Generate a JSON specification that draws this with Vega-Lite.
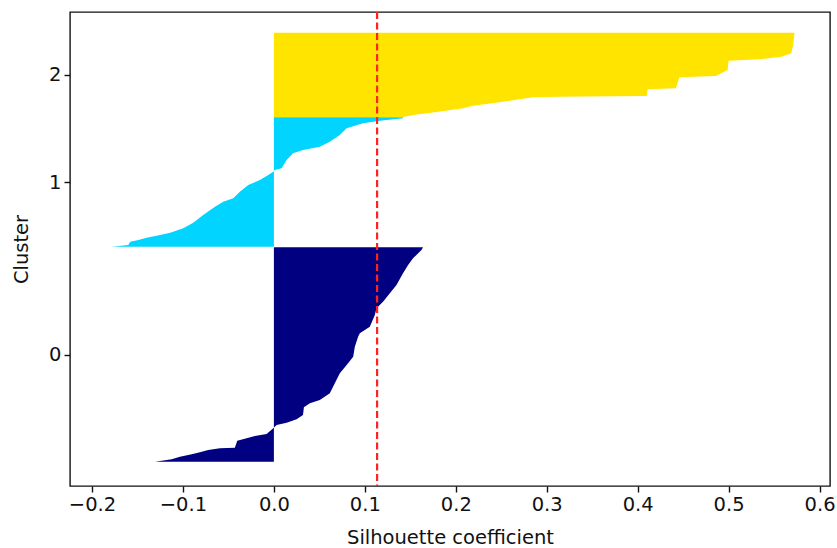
{
  "$schema": "https://vega.github.io/schema/vega-lite/v6.json",
  "width": 760,
  "height": 474,
  "autosize": {"type": "none"},
  "padding": {"left": 70, "top": 12, "right": 7, "bottom": 62},
  "background": "white",
  "config": {
    "font": "DejaVu Sans",
    "view": {"stroke": "#111111", "strokeWidth": 1.4},
    "axis": {
      "domain": false,
      "grid": false,
      "ticks": true,
      "tickColor": "#111111",
      "tickSize": 6,
      "tickWidth": 1.4,
      "labelColor": "#111111",
      "labelFont": "DejaVu Sans",
      "labelFontSize": 19.5,
      "labelPadding": 3,
      "titleColor": "#111111",
      "titleFont": "DejaVu Sans",
      "titleFontSize": 19.5,
      "titleFontWeight": "normal"
    }
  },
  "datasets": {
    "silhouette": [
      {"cluster": "0", "sample": 12.15, "coef": -0.1308},
      {"cluster": "0", "sample": 13.35, "coef": -0.1124},
      {"cluster": "0", "sample": 14.65, "coef": -0.1033},
      {"cluster": "0", "sample": 15.85, "coef": -0.0904},
      {"cluster": "0", "sample": 16.85, "coef": -0.0813},
      {"cluster": "0", "sample": 18.0, "coef": -0.0722},
      {"cluster": "0", "sample": 18.85, "coef": -0.0593},
      {"cluster": "0", "sample": 19.15, "coef": -0.0429},
      {"cluster": "0", "sample": 22.65, "coef": -0.0403},
      {"cluster": "0", "sample": 23.85, "coef": -0.03},
      {"cluster": "0", "sample": 25.0, "coef": -0.0209},
      {"cluster": "0", "sample": 26.0, "coef": -0.008},
      {"cluster": "0", "sample": 28.85, "coef": -0.0007},
      {"cluster": "0", "sample": 30.5, "coef": 0.003},
      {"cluster": "0", "sample": 31.65, "coef": 0.014},
      {"cluster": "0", "sample": 33.35, "coef": 0.025},
      {"cluster": "0", "sample": 35.5, "coef": 0.032},
      {"cluster": "0", "sample": 39.35, "coef": 0.033},
      {"cluster": "0", "sample": 41.35, "coef": 0.0396},
      {"cluster": "0", "sample": 43.0, "coef": 0.0505},
      {"cluster": "0", "sample": 46.35, "coef": 0.0615},
      {"cluster": "0", "sample": 51.35, "coef": 0.067},
      {"cluster": "0", "sample": 56.35, "coef": 0.0725},
      {"cluster": "0", "sample": 60.5, "coef": 0.08},
      {"cluster": "0", "sample": 64.65, "coef": 0.0872},
      {"cluster": "0", "sample": 69.65, "coef": 0.089},
      {"cluster": "0", "sample": 74.65, "coef": 0.0926},
      {"cluster": "0", "sample": 76.35, "coef": 0.0945},
      {"cluster": "0", "sample": 79.65, "coef": 0.1055},
      {"cluster": "0", "sample": 85.5, "coef": 0.111},
      {"cluster": "0", "sample": 88.85, "coef": 0.1128},
      {"cluster": "0", "sample": 92.15, "coef": 0.12},
      {"cluster": "0", "sample": 96.35, "coef": 0.1275},
      {"cluster": "0", "sample": 100.5, "coef": 0.1348},
      {"cluster": "0", "sample": 106.35, "coef": 0.142},
      {"cluster": "0", "sample": 110.5, "coef": 0.1476},
      {"cluster": "0", "sample": 113.85, "coef": 0.153},
      {"cluster": "0", "sample": 118.0, "coef": 0.1623},
      {"cluster": "0", "sample": 119.35, "coef": 0.164},

      {"cluster": "1", "sample": 119.65, "coef": -0.1785},
      {"cluster": "1", "sample": 120.5, "coef": -0.16},
      {"cluster": "1", "sample": 122.15, "coef": -0.158},
      {"cluster": "1", "sample": 123.0, "coef": -0.149},
      {"cluster": "1", "sample": 124.15, "coef": -0.14},
      {"cluster": "1", "sample": 125.15, "coef": -0.129},
      {"cluster": "1", "sample": 126.65, "coef": -0.114},
      {"cluster": "1", "sample": 128.85, "coef": -0.0996},
      {"cluster": "1", "sample": 131.65, "coef": -0.0887},
      {"cluster": "1", "sample": 135.5, "coef": -0.0777},
      {"cluster": "1", "sample": 139.65, "coef": -0.0648},
      {"cluster": "1", "sample": 142.15, "coef": -0.0557},
      {"cluster": "1", "sample": 143.85, "coef": -0.0447},
      {"cluster": "1", "sample": 147.15, "coef": -0.0374},
      {"cluster": "1", "sample": 150.5, "coef": -0.0282},
      {"cluster": "1", "sample": 153.0, "coef": -0.0154},
      {"cluster": "1", "sample": 155.5, "coef": -0.0062},
      {"cluster": "1", "sample": 157.15, "coef": -0.0007},
      {"cluster": "1", "sample": 158.0, "coef": 0.001},
      {"cluster": "1", "sample": 158.85, "coef": 0.0085},
      {"cluster": "1", "sample": 163.0, "coef": 0.014},
      {"cluster": "1", "sample": 166.35, "coef": 0.021},
      {"cluster": "1", "sample": 168.0, "coef": 0.032},
      {"cluster": "1", "sample": 169.65, "coef": 0.0505},
      {"cluster": "1", "sample": 172.15, "coef": 0.0615},
      {"cluster": "1", "sample": 175.5, "coef": 0.0725},
      {"cluster": "1", "sample": 178.85, "coef": 0.08},
      {"cluster": "1", "sample": 181.35, "coef": 0.098},
      {"cluster": "1", "sample": 182.65, "coef": 0.1165},
      {"cluster": "1", "sample": 183.85, "coef": 0.142},
      {"cluster": "1", "sample": 184.35, "coef": 0.142},

      {"cluster": "2", "sample": 184.5, "coef": 0.142},
      {"cluster": "2", "sample": 185.5, "coef": 0.153},
      {"cluster": "2", "sample": 187.0, "coef": 0.179},
      {"cluster": "2", "sample": 188.85, "coef": 0.208},
      {"cluster": "2", "sample": 190.15, "coef": 0.219},
      {"cluster": "2", "sample": 191.85, "coef": 0.248},
      {"cluster": "2", "sample": 193.35, "coef": 0.27},
      {"cluster": "2", "sample": 194.35, "coef": 0.285},
      {"cluster": "2", "sample": 194.65, "coef": 0.314},
      {"cluster": "2", "sample": 195.0, "coef": 0.41},
      {"cluster": "2", "sample": 198.35, "coef": 0.411},
      {"cluster": "2", "sample": 198.85, "coef": 0.442},
      {"cluster": "2", "sample": 204.35, "coef": 0.446},
      {"cluster": "2", "sample": 205.0, "coef": 0.486},
      {"cluster": "2", "sample": 208.0, "coef": 0.499},
      {"cluster": "2", "sample": 212.65, "coef": 0.5},
      {"cluster": "2", "sample": 213.35, "coef": 0.534},
      {"cluster": "2", "sample": 214.65, "coef": 0.558},
      {"cluster": "2", "sample": 216.35, "coef": 0.569},
      {"cluster": "2", "sample": 220.5, "coef": 0.571},
      {"cluster": "2", "sample": 226.65, "coef": 0.5725}
    ],
    "average": [{"coef": 0.1135}]
  },
  "layer": [
    {
      "data": {"name": "silhouette"},
      "mark": {"type": "area", "orient": "horizontal", "opacity": 1},
      "encoding": {
        "y": {
          "field": "sample",
          "type": "quantitative",
          "scale": {"domain": [0, 237], "zero": false, "nice": false},
          "axis": {
            "title": "Cluster",
            "values": [65.75, 152, 205.6],
            "labelExpr": "datum.value < 100 ? '0' : datum.value < 180 ? '1' : '2'",
            "titlePadding": 17
          }
        },
        "x": {
          "field": "coef",
          "type": "quantitative",
          "scale": {"domain": [-0.2242, 0.6115], "zero": false, "nice": false},
          "axis": {
            "title": "Silhouette coefficient",
            "values": [-0.2, -0.1, 0, 0.1, 0.2, 0.3, 0.4, 0.5, 0.6],
            "format": ".1f",
            "titlePadding": 15
          }
        },
        "x2": {"datum": 0},
        "color": {
          "field": "cluster",
          "type": "nominal",
          "scale": {"domain": ["0", "1", "2"], "range": ["#000080", "#00d4ff", "#ffe400"]},
          "legend": null
        },
        "detail": {"field": "cluster"}
      }
    },
    {
      "data": {"name": "average"},
      "mark": {"type": "rule", "color": "#ff2222", "strokeWidth": 2.2, "strokeDash": [7, 3.5]},
      "encoding": {
        "x": {"field": "coef", "type": "quantitative"}
      }
    }
  ]
}
